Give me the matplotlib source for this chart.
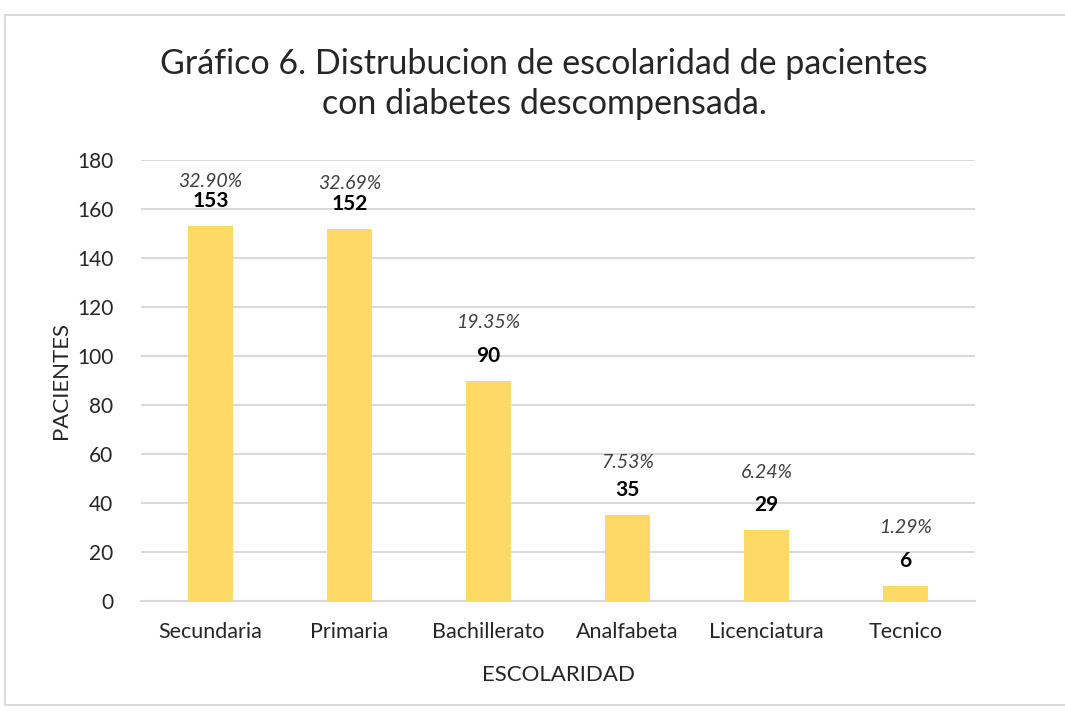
import numpy as np
import matplotlib.pyplot as plt
from matplotlib.patches import Rectangle

plt.rcParams['font.family'] = ['Lato', 'DejaVu Sans']

categories = ['Secundaria', 'Primaria', 'Bachillerato', 'Analfabeta', 'Licenciatura', 'Tecnico']
pacientes = [153, 152, 90, 35, 29, 6]
porcentajes = ['32.90%', '32.69%', '19.35%', '7.53%', '6.24%', '1.29%']

fig = plt.figure(figsize=(10.65, 7.14), dpi=100)
ax = fig.add_axes([141 / 1065, 1 - 601 / 714, 834 / 1065, 441 / 714])

# chart border
fig.patches.append(Rectangle((5 / 1065, 1 - 705 / 714), 1.2, 690 / 714, transform=fig.transFigure,
                             fill=False, edgecolor='#d9d9d9', linewidth=1.5))

x = np.arange(len(categories))
ax.bar(x, pacientes, width=0.32, color='#FFD966', zorder=3)

pct_offset = [20, 20, 33, 28, 32, 34]
for xi, v, p, off in zip(x, pacientes, porcentajes, pct_offset):
    ax.annotate(str(v), (xi, v), xytext=(0, 25 / 1.389), textcoords='offset points',
                ha='center', va='center', fontsize=15, fontweight='bold', color='#000000')
    ax.annotate(p, (xi, v), xytext=(0, (25 + off) / 1.389), textcoords='offset points',
                ha='center', va='center', fontsize=14, style='italic', color='#404040')

ax.set_xlim(-0.5, len(categories) - 0.5)
ax.set_ylim(0, 180)
ax.set_yticks(range(0, 181, 20))
ax.yaxis.grid(True, color='#d9d9d9', linewidth=1.5, zorder=0)
ax.set_xticks(x)
ax.set_xticklabels(categories)
ax.tick_params(axis='x', length=0, labelsize=15.5, colors='#262626', pad=15)
ax.tick_params(axis='y', length=0, labelsize=15, colors='#262626', pad=20)
for s in ['top', 'right', 'left']:
    ax.spines[s].set_visible(False)
ax.spines['bottom'].set_color('#d9d9d9')
ax.spines['bottom'].set_linewidth(1.5)

ax.set_xlabel('ESCOLARIDAD', fontsize=16, labelpad=17, color='#262626')
ax.set_ylabel('PACIENTES', fontsize=16, labelpad=4, color='#262626')

fig.text(544 / 1065, 1 - 84 / 714, 'Gráfico 6. Distrubucion de escolaridad de pacientes\ncon diabetes descompensada.',
         ha='center', va='center', fontsize=24.5, color='#262626', linespacing=1.3)

fig.savefig('out.png', dpi=100)
